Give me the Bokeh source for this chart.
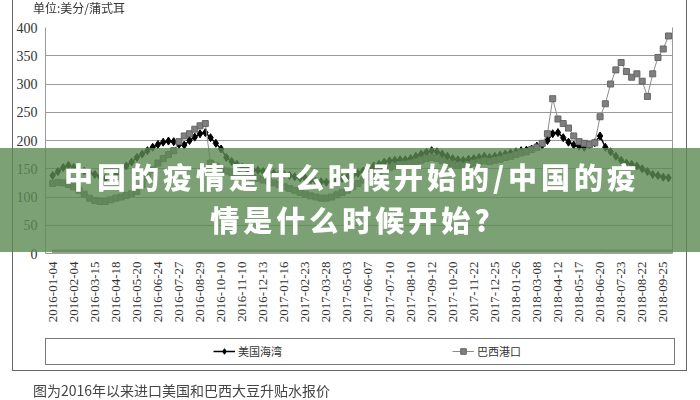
import numpy as np
from bokeh.plotting import figure
from bokeh.models import (Range1d, FixedTicker, Legend, LegendItem, Div, LinearAxis)
from bokeh.layouts import column
from bokeh.embed import file_html
from bokeh.resources import INLINE

# ---- data (cents / bushel), 4 samples per labelled interval ----
TICK_LABELS = ["2016-01-04", "2016-02-04", "2016-03-15", "2016-04-18", "2016-05-20",
               "2016-06-24", "2016-07-27", "2016-08-29", "2016-10-10", "2016-11-10",
               "2016-12-13", "2017-01-16", "2017-02-23", "2017-03-28", "2017-05-03",
               "2017-06-07", "2017-07-10", "2017-08-10", "2017-09-12", "2017-10-20",
               "2017-11-22", "2017-12-25", "2018-01-26", "2018-03-08", "2018-04-12",
               "2018-05-17", "2018-06-20", "2018-07-23", "2018-08-22", "2018-09-25"]
SAMPLES_PER_LABEL = 4

US_GULF = [138, 145, 152, 156, 152, 148, 146, 143, 140, 136, 133, 135,
           140, 148, 155, 162, 170, 176, 182, 188, 193, 197, 199, 198,
           193, 192, 200, 206, 212, 214, 205, 195, 185, 170, 163, 158,
           153, 150, 148, 147, 145, 144, 142, 140, 140, 138, 136, 134,
           133, 130, 128, 127, 126, 128, 130, 133, 135, 138, 142, 146,
           150, 155, 158, 162, 164, 165, 166, 166, 168, 172, 176, 179,
           182, 180, 176, 172, 168, 166, 165, 167, 168, 170, 172, 170,
           172, 174, 176, 178, 180, 182, 183, 185, 190, 192, 200, 212,
           214, 205, 197, 192, 190, 188, 192, 196, 208, 188, 180, 172,
           165, 160, 158, 155, 150, 145, 140, 138, 135, 134]

BRAZIL = [124, 126, 125, 122, 118, 112, 105, 98, 94, 92, 92, 95,
          98, 100, 103, 106, 110, 122, 135, 148, 160, 168, 175, 182,
          198, 208, 212, 220, 226, 230, 160, 155, 150, 146, 143, 140,
          138, 136, 135, 133, 130, 128, 125, 122, 118, 115, 112, 108,
          105, 102, 100, 98, 98, 100, 104, 108, 112, 118, 124, 130,
          135, 140, 145, 150, 152, 155, 157, 158, 160, 162, 165, 168,
          170, 168, 164, 160, 158, 156, 155, 157, 160, 162, 164, 163,
          165, 167, 170, 172, 175, 178, 180, 184, 188, 195, 212, 274,
          238, 230, 222, 208, 198, 195, 193, 196, 242, 265, 300, 325,
          338, 322, 312, 318, 305, 278, 318, 347, 362, 385]

Y_TICKS = [0, 50, 100, 150, 200, 250, 300, 350, 400]
SERIES_NAMES = ["美国海湾", "巴西港口"]
UNIT_TEXT = "单位:美分/蒲式耳"
BANNER_LINE1 = "中国的疫情是什么时候开始的/中国的疫"
BANNER_LINE2 = "情是什么时候开始?"
CAPTION = "图为2016年以来进口美国和巴西大豆升贴水报价"

pos_us = np.arange(len(US_GULF)) / SAMPLES_PER_LABEL
pos_br = np.arange(len(BRAZIL)) / SAMPLES_PER_LABEL

# layout (pixels): plot area 45..672 x 27..253; frame extended down to 371
# so that the legend row can live inside the frame
W, H = 700, 400
FL, FR, FT = 45, 28, 27
ZERO_Y, FRAME_BOTTOM = 253, 371
px_per_unit = (ZERO_Y - FT) / 400.0
y_min = -(FRAME_BOTTOM - ZERO_Y) / px_per_unit

p = figure(frame_width=W - FL - FR, frame_height=FRAME_BOTTOM - FT,
           output_backend="svg", toolbar_location=None,
           x_range=Range1d(-0.34, 29.44), y_range=Range1d(y_min, 400),
           min_border_left=FL, min_border_right=FR, min_border_top=FT,
           min_border_bottom=H - FRAME_BOTTOM, background_fill_color="white",
           border_fill_color="white")
p.outline_line_color = None

# x axis fixed at y = 0
xt = FixedTicker(ticks=list(range(len(TICK_LABELS))),
                 minor_ticks=[float(v) for v in np.arange(0, 29.44, 1 / 22)])
p.xaxis.fixed_location = 0
p.xaxis.ticker = xt
p.xaxis.major_label_overrides = {i: s for i, s in enumerate(TICK_LABELS)}
p.xaxis.major_label_orientation = np.pi / 2
p.xaxis.major_label_text_font = "Liberation Serif"
p.xaxis.major_label_text_font_size = "13px"
p.xaxis.major_label_text_color = "#333333"
p.xaxis.major_label_standoff = 8
p.xaxis.axis_line_color = "#9a9a9a"
p.xaxis.major_tick_in = 4
p.xaxis.major_tick_out = 0
p.xaxis.minor_tick_in = 4
p.xaxis.minor_tick_out = 0
p.xaxis.major_tick_line_color = "#9a9a9a"
p.xaxis.minor_tick_line_color = "#a0a0a0"

p.yaxis.ticker = FixedTicker(ticks=Y_TICKS)
p.yaxis.bounds = (0, 400)
p.yaxis.major_label_text_font = "Liberation Serif"
p.yaxis.major_label_text_font_size = "14px"
p.yaxis.major_label_text_color = "#333333"
p.yaxis.major_label_standoff = 8
p.yaxis.major_tick_in = 0
p.yaxis.major_tick_out = 0
p.yaxis.minor_tick_line_color = None
p.yaxis.axis_line_color = "#9a9a9a"

# right edge line of the plot area
p.add_layout(LinearAxis(ticker=FixedTicker(ticks=[]), bounds=(0, 400),
                        axis_line_color="#9a9a9a", major_tick_line_color=None,
                        minor_tick_line_color=None), "right")

p.xgrid.visible = False
p.ygrid.ticker = FixedTicker(ticks=Y_TICKS)
p.ygrid.grid_line_color = "#9a9a9a"
p.ygrid.grid_line_width = 1

# series
us_line = p.line(pos_us, US_GULF, line_color="black", line_width=1.5)
us_pts = p.scatter(pos_us, US_GULF, marker="diamond", size=8,
                   fill_color="black", line_color="black")
br_line = p.line(pos_br, BRAZIL, line_color="#8c8c8c", line_width=1)
br_pts = p.scatter(pos_br, BRAZIL, marker="square", size=6,
                   fill_color="#7f7f7f", line_color="#666666")

# legend row inside the (extended) frame: bottom-left corner in frame pixels
legend = Legend(items=[LegendItem(label=SERIES_NAMES[0], renderers=[us_line, us_pts]),
                       LegendItem(label=SERIES_NAMES[1], renderers=[br_line, br_pts])],
                orientation="horizontal", location=(213 - FL, 12), spacing=0,
                label_width=214, label_height=14, margin=0, padding=0,
                glyph_width=22, glyph_height=14, label_standoff=3,
                border_line_color=None, background_fill_alpha=0,
                label_text_font="Noto Sans CJK SC", label_text_font_size="11px",
                label_text_color="#333333")
p.add_layout(legend)

# page decorations overlaid on the chart: outer frame, legend box, unit, banner, caption
font = "font-family:'Noto Sans CJK SC';"
banner_text = ("text-align:center;white-space:nowrap;color:#fff;" + font +
               "font-weight:900;font-size:29px;letter-spacing:4px;padding-left:4px;"
               "box-sizing:border-box;z-index:7;")
overlay_html = (
    '<div style="position:fixed;left:12px;top:-2px;width:675px;height:373px;'
    'border:1px solid #666;box-sizing:border-box;pointer-events:none;z-index:5;"></div>'
    '<div style="position:fixed;left:45px;top:338px;width:630px;height:27px;'
    'border:1px solid #777;box-sizing:border-box;pointer-events:none;z-index:5;"></div>'
    '<div style="position:fixed;left:33px;top:0px;height:16px;line-height:16px;'
    'white-space:nowrap;color:#333;' + font + 'font-size:12px;z-index:5;">'
    + UNIT_TEXT + '</div>'
    '<div style="position:fixed;left:0px;top:148px;width:700px;height:104px;'
    'background:rgba(91,138,82,0.8);pointer-events:none;z-index:6;"></div>'
    '<div style="position:fixed;left:0px;top:155px;width:700px;height:42px;line-height:42px;'
    + banner_text + '">' + BANNER_LINE1 + '</div>'
    '<div style="position:fixed;left:0px;top:198px;width:700px;height:42px;line-height:42px;'
    + banner_text + '">' + BANNER_LINE2 + '</div>'
    '<div style="position:fixed;left:33px;top:382px;height:17px;line-height:17px;'
    'white-space:nowrap;color:#444;' + font + 'font-size:14px;z-index:7;">'
    + CAPTION + '</div>'
)
overlay = Div(text=overlay_html, width=1, height=1)

root = column(p, overlay)
open("out.html", "w").write(file_html(root, INLINE))
